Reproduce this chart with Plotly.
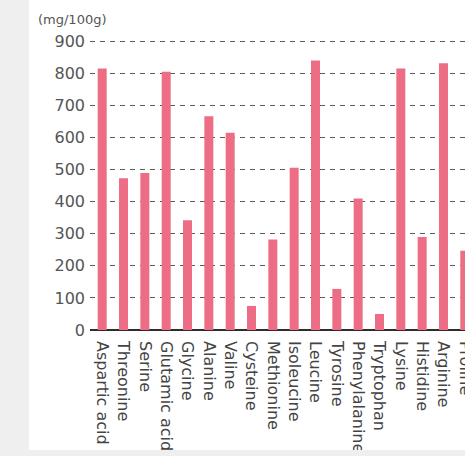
import plotly.graph_objects as go

amino_acids = ["Aspartic acid", "Threonine", "Serine", "Glutamic acid", "Glycine",
               "Alanine", "Valine", "Cysteine", "Methionine", "Isoleucine", "Leucine",
               "Tyrosine", "Phenylalanine", "Tryptophan", "Lysine", "Histidine",
               "Arginine", "Proline"]
content_mg = [815, 473, 489, 805, 342, 666, 615, 75, 282, 506, 840,
              128, 410, 50, 815, 290, 831, 247]
y_ticks = [0, 100, 200, 300, 400, 500, 600, 700, 800, 900]
unit_label = "(mg/100g)"

FONT = "DejaVu Sans"
W, H = 465, 456
L, R, T, B = 90, 0, 38, 126
plot_w = W - L - R
plot_h = H - T - B

fig = go.Figure(go.Bar(
    x=amino_acids, y=content_mg,
    marker=dict(color="#ec6d84", line=dict(width=0)),
))

def px_to_paper_x(px):
    return (px - L) / plot_w

def px_to_paper_y(py):
    return (H - B - py) / plot_h

fig.update_layout(
    width=W, height=H,
    margin=dict(l=L, r=R, t=T, b=B),
    paper_bgcolor="white", plot_bgcolor="white",
    bargap=0.578,
    showlegend=False,
    font=dict(family=FONT, color="#444"),
    xaxis=dict(
        type="category",
        range=[-0.572, 17.009],
        tickangle=90,
        tickfont=dict(size=16, color="#444", family=FONT),
        ticks="", showgrid=False, showline=False, zeroline=False,
        ticklabelstandoff=10,
        automargin=False,
    ),
    yaxis=dict(
        range=[0, 910],
        tickvals=y_ticks,
        ticktext=[str(v) for v in y_ticks],
        tickfont=dict(size=16, color="#555", family=FONT),
        ticks="",
        showgrid=True, gridcolor="#5a5a5a", gridwidth=1.2, griddash="5px,5px",
        zeroline=True, zerolinecolor="#332a2a", zerolinewidth=2,
        showline=False,
        ticklabelstandoff=4,
        automargin=False,
    ),
    shapes=[
        dict(type="rect", xref="paper", yref="paper",
             x0=px_to_paper_x(0), x1=px_to_paper_x(29),
             y0=px_to_paper_y(H), y1=px_to_paper_y(0),
             fillcolor="#efefef", line=dict(width=0), layer="below"),
        dict(type="rect", xref="paper", yref="paper",
             x0=px_to_paper_x(0), x1=px_to_paper_x(W),
             y0=px_to_paper_y(H), y1=px_to_paper_y(450),
             fillcolor="#efefef", line=dict(width=0), layer="above"),
    ],
    annotations=[
        dict(text=unit_label, xref="paper", yref="paper",
             x=px_to_paper_x(36), y=px_to_paper_y(19),
             xanchor="left", yanchor="middle", showarrow=False,
             font=dict(size=13, color="#555", family=FONT)),
    ],
)

fig.write_html("out.html")
